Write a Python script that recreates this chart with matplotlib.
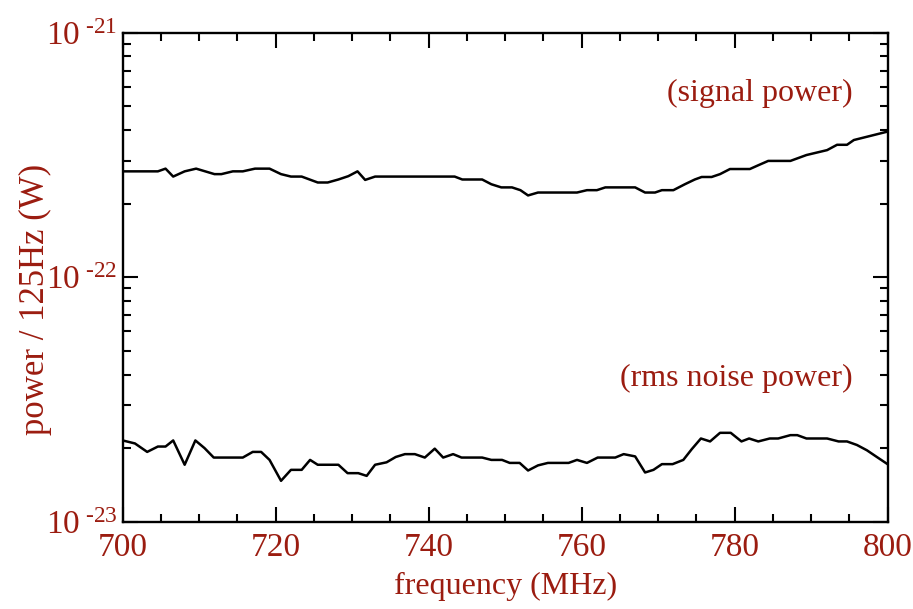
import numpy as np
import matplotlib
matplotlib.use("Agg")
import matplotlib.pyplot as plt
from matplotlib.ticker import LogLocator, MultipleLocator, FixedLocator, FuncFormatter

# data (frequency in MHz, power in W / 125 Hz)
sig_freq = [700.0, 704.6, 705.6, 706.6, 708.1, 709.6, 712.0, 712.9, 714.4, 715.7,
            717.3, 719.2, 720.7, 722.0, 723.4, 725.5, 726.8, 728.2, 729.5, 730.7,
            731.7, 733.0, 743.4, 744.4, 747.0, 748.2, 749.5, 750.9, 752.0, 753.0,
            754.3, 759.4, 760.7, 762.0, 763.1, 767.0, 768.3, 769.6, 770.5, 772.0,
            773.5, 774.8, 775.7, 777.0, 778.1, 779.4, 782.0, 783.1, 784.4, 787.3,
            789.4, 792.1, 793.4, 794.7, 795.6, 800.0]
sig_pow = [2.71, 2.71, 2.78, 2.58, 2.71, 2.78, 2.64, 2.64, 2.71, 2.71,
           2.78, 2.78, 2.64, 2.58, 2.58, 2.44, 2.44, 2.51, 2.59, 2.71,
           2.50, 2.58, 2.58, 2.51, 2.51, 2.40, 2.33, 2.33, 2.27, 2.16,
           2.22, 2.22, 2.27, 2.27, 2.33, 2.33, 2.22, 2.22, 2.27, 2.27,
           2.40, 2.51, 2.57, 2.57, 2.64, 2.77, 2.77, 2.87, 2.99, 2.99,
           3.16, 3.31, 3.48, 3.48, 3.64, 3.94]  # x 1e-22

noise_freq = [700.0, 701.6, 703.2, 704.6, 705.6, 706.6, 708.1, 709.5, 710.7, 711.9,
              715.7, 717.0, 718.1, 719.2, 720.7, 722.0, 723.4, 724.5, 725.5, 728.2,
              729.4, 730.8, 731.9, 733.0, 734.5, 735.7, 736.9, 738.2, 739.5, 740.8,
              741.9, 743.2, 744.3, 747.0, 748.2, 749.6, 750.6, 751.9, 753.0, 754.3,
              755.6, 758.3, 759.4, 760.7, 762.1, 764.4, 765.5, 767.0, 768.3, 769.4,
              770.5, 771.9, 773.3, 774.4, 775.6, 776.8, 778.1, 779.5, 780.9, 781.9,
              783.1, 784.6, 785.7, 787.3, 788.2, 789.4, 792.1, 793.6, 794.7, 796.0,
              797.3, 798.6, 800.0]
noise_pow = [2.15, 2.09, 1.93, 2.03, 2.03, 2.15, 1.71, 2.15, 2.00, 1.83,
             1.83, 1.93, 1.93, 1.79, 1.47, 1.63, 1.63, 1.79, 1.71, 1.71,
             1.58, 1.58, 1.54, 1.71, 1.75, 1.84, 1.89, 1.89, 1.83, 1.99,
             1.83, 1.89, 1.83, 1.83, 1.79, 1.79, 1.74, 1.74, 1.62, 1.70,
             1.74, 1.74, 1.79, 1.74, 1.83, 1.83, 1.89, 1.85, 1.59, 1.63,
             1.72, 1.72, 1.79, 1.98, 2.19, 2.13, 2.31, 2.31, 2.13, 2.19,
             2.13, 2.19, 2.19, 2.26, 2.26, 2.19, 2.19, 2.13, 2.13, 2.06,
             1.96, 1.84, 1.72]  # x 1e-23

x_ticks = [700, 720, 740, 760, 780, 800]
y_ticks = [1e-23, 1e-22, 1e-21]

RED = "#9b1c10"
plt.rcParams["font.family"] = ["Liberation Serif", "DejaVu Serif"]
plt.rcParams["mathtext.fontset"] = "custom"
plt.rcParams["mathtext.rm"] = "Liberation Serif"
plt.rcParams["mathtext.it"] = "Liberation Serif:italic"

fig = plt.figure(figsize=(9.13, 6.09), dpi=100)
ax = fig.add_axes([0.1344, 0.1433, 0.8377, 0.8030])

ax.plot(sig_freq, np.array(sig_pow) * 1e-22, color="black", lw=1.8)
ax.plot(noise_freq, np.array(noise_pow) * 1e-23, color="black", lw=1.8)

ax.set_yscale("log")
ax.set_xlim(700, 800)
ax.set_ylim(1e-23, 1e-21)

ax.xaxis.set_major_locator(FixedLocator(x_ticks))
ax.xaxis.set_minor_locator(MultipleLocator(5))
ax.yaxis.set_major_locator(FixedLocator(y_ticks))
ax.yaxis.set_minor_locator(LogLocator(base=10, subs=np.arange(2, 10)))
ax.yaxis.set_minor_formatter(FuncFormatter(lambda v, p: ""))
ax.yaxis.set_major_formatter(
    FuncFormatter(lambda v, p: "$\\mathregular{10^{\\ \u2010%d}}$" % abs(int(round(np.log10(v))))))

for s in ax.spines.values():
    s.set_linewidth(1.7)
ax.tick_params(which="both", direction="in", top=True, right=True, colors="black",
               labelcolor=RED, labelsize=24)
ax.tick_params(which="major", length=11, width=1.5)
ax.tick_params(which="minor", length=6, width=1.5)
ax.tick_params(axis="x", pad=8)
ax.tick_params(axis="y", pad=4)

ax.set_xlabel("frequency (MHz)", color=RED, fontsize=23, labelpad=6)
ax.set_ylabel("power / 125Hz (W)", color=RED, fontsize=25)
ax.yaxis.set_label_coords(-0.092, 0.455)

ax.text(0.955, 0.875, "(signal power)", transform=ax.transAxes, ha="right",
        va="center", color=RED, fontsize=23)
ax.text(0.955, 0.293, "(rms noise power)", transform=ax.transAxes, ha="right",
        va="center", color=RED, fontsize=23)

fig.savefig("out.png", dpi=100)
